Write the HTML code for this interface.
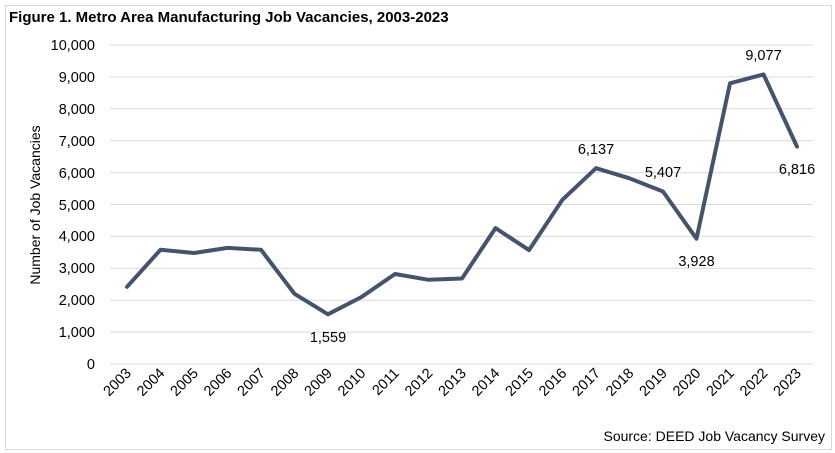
<!DOCTYPE html>
<html><head><meta charset="utf-8"><style>
body{margin:0;background:#fff;}
svg{display:block;font-family:"Liberation Sans",Calibri,sans-serif;}
</style></head><body>
<svg width="835" height="453" xmlns="http://www.w3.org/2000/svg">
<rect x="5.5" y="5.5" width="826" height="444" fill="#fff" stroke="#d9d9d9"/>
<text x="9" y="22" font-size="15" font-weight="bold" fill="#000">Figure 1. Metro Area Manufacturing Job Vacancies, 2003-2023</text>
<g stroke="#d9d9d9" stroke-width="1">
<line x1="110" x2="813" y1="45" y2="45"/><line x1="110" x2="813" y1="76.9" y2="76.9"/>
<line x1="110" x2="813" y1="108.8" y2="108.8"/><line x1="110" x2="813" y1="140.7" y2="140.7"/>
<line x1="110" x2="813" y1="172.6" y2="172.6"/><line x1="110" x2="813" y1="204.5" y2="204.5"/>
<line x1="110" x2="813" y1="236.4" y2="236.4"/><line x1="110" x2="813" y1="268.3" y2="268.3"/>
<line x1="110" x2="813" y1="300.2" y2="300.2"/><line x1="110" x2="813" y1="332.1" y2="332.1"/>
<line x1="110" x2="813" y1="364" y2="364"/>
</g>
<g font-size="14.5" fill="#000" text-anchor="end">
<text x="95" y="50">10,000</text><text x="95" y="82">9,000</text><text x="95" y="114">8,000</text>
<text x="95" y="146">7,000</text><text x="95" y="178">6,000</text><text x="95" y="210">5,000</text>
<text x="95" y="241">4,000</text><text x="95" y="273">3,000</text><text x="95" y="305">2,000</text>
<text x="95" y="337">1,000</text><text x="95" y="369">0</text>
</g>
<text transform="translate(40,205) rotate(-90)" font-size="14" text-anchor="middle">Number of Job Vacancies</text>
<polyline fill="none" stroke="#44546a" stroke-width="4" stroke-linejoin="round" stroke-linecap="round" points="127,286.8 160.5,249.8 194,253 227.5,247.9 261,249.8 294.5,293.8 328,314.3 361.5,297 395,274 428.5,279.8 462,278.5 495.5,228.1 529,250.1 562.5,199.7 596,168.2 629.5,178.3 663,191.5 696.5,238.7 730,83.3 763.5,74.4 797,146.6"/>
<g font-size="14.5" fill="#000" text-anchor="middle">
<text x="328" y="342">1,559</text><text x="596" y="154">6,137</text><text x="663" y="177">5,407</text>
<text x="696.5" y="266">3,928</text><text x="763.5" y="60">9,077</text><text x="797" y="174">6,816</text>
</g>
<g font-size="14.5" fill="#000" text-anchor="end">
<text transform="translate(132,374) rotate(-45)">2003</text><text transform="translate(165.5,374) rotate(-45)">2004</text>
<text transform="translate(199,374) rotate(-45)">2005</text><text transform="translate(232.5,374) rotate(-45)">2006</text>
<text transform="translate(266,374) rotate(-45)">2007</text><text transform="translate(299.5,374) rotate(-45)">2008</text>
<text transform="translate(333,374) rotate(-45)">2009</text><text transform="translate(366.5,374) rotate(-45)">2010</text>
<text transform="translate(400,374) rotate(-45)">2011</text><text transform="translate(433.5,374) rotate(-45)">2012</text>
<text transform="translate(467,374) rotate(-45)">2013</text><text transform="translate(500.5,374) rotate(-45)">2014</text>
<text transform="translate(534,374) rotate(-45)">2015</text><text transform="translate(567.5,374) rotate(-45)">2016</text>
<text transform="translate(601,374) rotate(-45)">2017</text><text transform="translate(634.5,374) rotate(-45)">2018</text>
<text transform="translate(668,374) rotate(-45)">2019</text><text transform="translate(701.5,374) rotate(-45)">2020</text>
<text transform="translate(735,374) rotate(-45)">2021</text><text transform="translate(768.5,374) rotate(-45)">2022</text>
<text transform="translate(802,374) rotate(-45)">2023</text>
</g>
<text x="825" y="441" font-size="14" text-anchor="end">Source: DEED Job Vacancy Survey</text>
</svg>
</body></html>
